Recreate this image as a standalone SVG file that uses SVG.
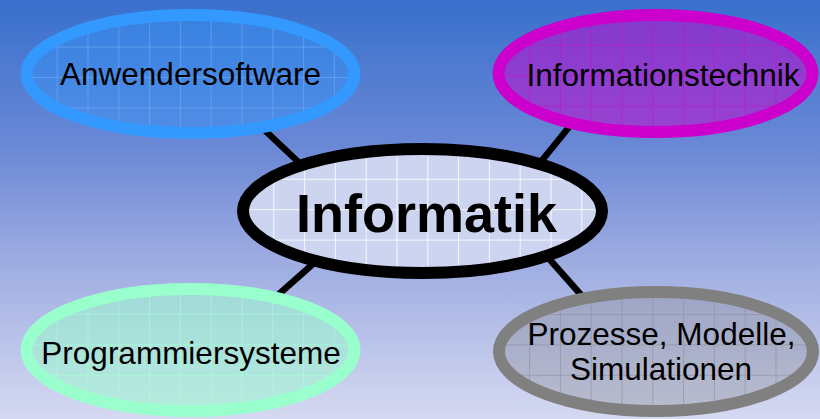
<svg xmlns="http://www.w3.org/2000/svg" width="820" height="419" viewBox="0 0 820 419">
  <defs>
    <linearGradient id="bg" gradientUnits="userSpaceOnUse" x1="0" y1="0" x2="0" y2="419">
      <stop offset="0" stop-color="#3870CC"/>
      <stop offset="0.35" stop-color="#6A88D6"/>
      <stop offset="0.6" stop-color="#9AA9E0"/>
      <stop offset="1" stop-color="#D5D9F1"/>
    </linearGradient>
    <pattern id="gBlue" patternUnits="userSpaceOnUse" width="30.8" height="30.4" x="25.9" y="16.2">
      <path d="M0 0.5H30.8M0.5 0V30.4" stroke="#7DB8FF" stroke-opacity="0.45" stroke-width="1" fill="none"/>
    </pattern>
    <pattern id="gMag" patternUnits="userSpaceOnUse" width="30.8" height="30.4" x="5.5" y="14.3">
      <path d="M0 0.5H30.8M0.5 0V30.4" stroke="#C010D0" stroke-opacity="0.6" stroke-width="1" fill="none"/>
    </pattern>
    <pattern id="gWhite" patternUnits="userSpaceOnUse" width="30.8" height="30.4" x="26.9" y="26.8">
      <path d="M0 0.5H30.8M0.5 0V30.4" stroke="#FFFFFF" stroke-opacity="0.85" stroke-width="1" fill="none"/>
    </pattern>
    <pattern id="gGreen" patternUnits="userSpaceOnUse" width="30.8" height="30.4" x="25.9" y="10">
      <path d="M0 0.5H30.8M0.5 0V30.4" stroke="#A8FFD8" stroke-opacity="0.6" stroke-width="1" fill="none"/>
    </pattern>
    <pattern id="gGray" patternUnits="userSpaceOnUse" width="30.8" height="30.4" x="5.5" y="10">
      <path d="M0 0.5H30.8M0.5 0V30.4" stroke="#8C8C9C" stroke-opacity="0.6" stroke-width="1" fill="none"/>
    </pattern>
  </defs>
  <style>
    .lbl { font-family: "Liberation Sans", Arial, Helvetica, sans-serif; font-size: 31.5px; fill: #000000; text-anchor: middle; }
    .main { font-family: "Liberation Sans", Arial, Helvetica, sans-serif; font-size: 54px; font-weight: bold; fill: #000000; text-anchor: middle; }
    .conn { stroke: #000000; stroke-width: 6.5; fill: none; }
    .ring { stroke-width: 12; }
  </style>

  <rect x="0" y="0" width="820" height="419" fill="url(#bg)"/>

  <g id="connectors">
    <line class="conn" x1="255" y1="121" x2="310" y2="173"/>
    <line class="conn" x1="578" y1="116" x2="535" y2="169"/>
    <line class="conn" x1="322" y1="256" x2="270" y2="302"/>
    <line class="conn" x1="544" y1="253" x2="590" y2="305"/>
  </g>

  <g id="node-anwendersoftware">
    <ellipse cx="190.5" cy="74" rx="164" ry="59" fill="url(#bg)"/>
    <ellipse cx="190.5" cy="74" rx="164" ry="59" fill="#3399FF" fill-opacity="0.4"/>
    <ellipse cx="190.5" cy="74" rx="164" ry="59" fill="url(#gBlue)"/>
    <ellipse class="ring" cx="190.5" cy="74" rx="164" ry="59" fill="none" stroke="#3399FF"/>
    <text class="lbl" x="190.5" y="85">Anwendersoftware</text>
  </g>

  <g id="node-informationstechnik">
    <ellipse cx="655.5" cy="73.5" rx="157" ry="58.5" fill="url(#bg)"/>
    <ellipse cx="655.5" cy="73.5" rx="157" ry="58.5" fill="#CC00CC" fill-opacity="0.5"/>
    <ellipse cx="655.5" cy="73.5" rx="157" ry="58.5" fill="url(#gMag)"/>
    <ellipse class="ring" cx="655.5" cy="73.5" rx="157" ry="58.5" fill="none" stroke="#CC00CC"/>
    <text class="lbl" x="663" y="86">Informationstechnik</text>
  </g>

  <g id="node-informatik">
    <ellipse cx="422.5" cy="211" rx="179.5" ry="62" fill="#CCD4F0"/>
    <ellipse cx="422.5" cy="211" rx="179.5" ry="62" fill="url(#gWhite)"/>
    <ellipse class="ring" cx="422.5" cy="211" rx="179.5" ry="62" fill="none" stroke="#000000"/>
    <text class="main" x="426.5" y="231.5">Informatik</text>
  </g>

  <g id="node-programmiersysteme">
    <ellipse cx="190.5" cy="350" rx="164" ry="61" fill="url(#bg)"/>
    <ellipse cx="190.5" cy="350" rx="164" ry="61" fill="#99FFCC" fill-opacity="0.5"/>
    <ellipse cx="190.5" cy="350" rx="164" ry="61" fill="url(#gGreen)"/>
    <ellipse class="ring" cx="190.5" cy="350" rx="164" ry="61" fill="none" stroke="#99FFCC"/>
    <text class="lbl" x="191" y="363.5">Programmiersysteme</text>
  </g>

  <g id="node-prozesse">
    <ellipse cx="656" cy="351.5" rx="157" ry="59.5" fill="url(#bg)"/>
    <ellipse cx="656" cy="351.5" rx="157" ry="59.5" fill="#808080" fill-opacity="0.3"/>
    <ellipse cx="656" cy="351.5" rx="157" ry="59.5" fill="url(#gGray)"/>
    <ellipse class="ring" cx="656" cy="351.5" rx="157" ry="59.5" fill="none" stroke="#808080"/>
    <text class="lbl" x="661.5" y="345">Prozesse, Modelle,</text>
    <text class="lbl" x="661" y="380">Simulationen</text>
  </g>
</svg>
